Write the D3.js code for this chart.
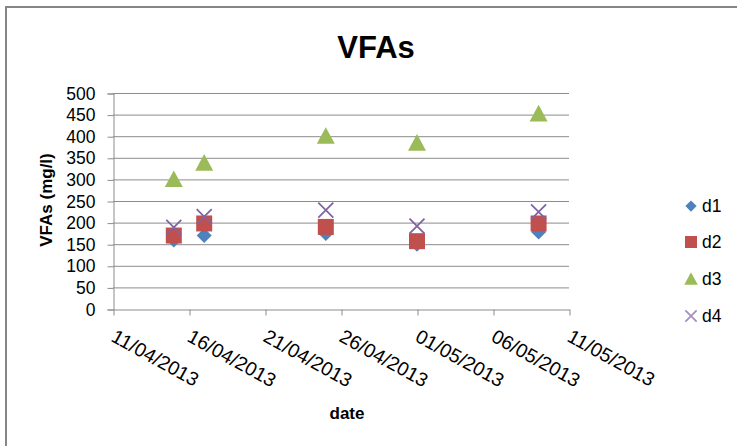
<!DOCTYPE html>
<html>
<head>
<meta charset="utf-8">
<script src="https://cdn.jsdelivr.net/npm/d3@7"></script>
<style>
  html, body { margin: 0; padding: 0; background: #fff; }
  svg { display: block; font-family: "Liberation Sans", Arial, sans-serif; }
</style>
</head>
<body>
<svg id="chart" width="737" height="446"></svg>
<script>
// Sampling dates and VFA concentrations (mg/l) for each digester
const sampleDates = ["15/04/2013", "17/04/2013", "25/04/2013", "01/05/2013", "09/05/2013"];
const d1 = [160, 170, 175, 150, 178];
const d2 = [170, 198, 190, 157, 198];
const d3v = [300, 338, 400, 384, 452];
const d4 = [189, 214, 229, 192, 225];
const seriesNames = ["d1", "d2", "d3", "d4"];
const xTickLabels = ["11/04/2013", "16/04/2013", "21/04/2013", "26/04/2013", "01/05/2013", "06/05/2013", "11/05/2013"];
const yTickValues = [0, 50, 100, 150, 200, 250, 300, 350, 400, 450, 500];

// dd/mm/yyyy <-> UTC Date
function parse(s) {
  const [dd, mm, yy] = s.split("/").map(Number);
  return new Date(Date.UTC(yy, mm - 1, dd));
}
const labelByTime = new Map(xTickLabels.map(s => [parse(s).getTime(), s]));
function fmt(d) { return labelByTime.get(d.getTime()) || ""; }

const svg = d3.select("#chart");
const W = 737, H = 446;
const plot = { left: 113, right: 569, top: 93, bottom: 309 };

const gridColor = "#8c8c8c";
const axisColor = "#8c8c8c";

// Outer chart border (runs off the right and bottom edges)
svg.append("rect")
  .attr("x", 6).attr("y", 7)
  .attr("width", W).attr("height", H)
  .attr("fill", "none")
  .attr("stroke", "#868686")
  .attr("stroke-width", 2);

const x = d3.scaleUtc()
  .domain([parse(xTickLabels[0]), parse(xTickLabels[xTickLabels.length - 1])])
  .range([plot.left, plot.right]);

const y = d3.scaleLinear()
  .domain([0, 500])
  .range([plot.bottom, plot.top]);

// Horizontal gridlines
svg.append("g")
  .selectAll("line")
  .data(yTickValues.filter(v => v > 0))
  .join("line")
  .attr("x1", plot.left).attr("x2", plot.right)
  .attr("y1", d => y(d) + 0.5).attr("y2", d => y(d) + 0.5)
  .attr("stroke", gridColor)
  .attr("stroke-width", 1);

// Y axis
const yAxis = svg.append("g")
  .attr("transform", `translate(${plot.left + 0.5},0.5)`)
  .call(d3.axisLeft(y).tickValues(yTickValues).tickSize(6).tickPadding(12));
yAxis.select(".domain").attr("stroke", axisColor);
yAxis.selectAll(".tick line").attr("stroke", axisColor);
yAxis.selectAll(".tick text")
  .attr("font-size", 17.5)
  .attr("fill", "#000")
  .attr("font-family", "\"Liberation Sans\", Arial, sans-serif");

// X axis
const xAxis = svg.append("g")
  .attr("transform", `translate(0.5,${plot.bottom + 0.5})`)
  .call(d3.axisBottom(x)
    .tickValues(xTickLabels.map(parse))
    .tickFormat(fmt)
    .tickSize(6)
    .tickSizeOuter(0));
xAxis.select(".domain").attr("stroke", axisColor);
xAxis.selectAll(".tick line").attr("stroke", axisColor);
xAxis.selectAll(".tick text")
  .attr("font-size", 19.5)
  .attr("fill", "#000")
  .attr("font-family", "\"Liberation Sans\", Arial, sans-serif")
  .attr("text-anchor", "start")
  .attr("dy", null)
  .attr("y", null)
  .attr("transform", "translate(-4,31) rotate(29)");

// Title and axis titles
svg.append("text")
  .attr("x", 376).attr("y", 58)
  .attr("text-anchor", "middle")
  .attr("font-size", 31).attr("font-weight", "bold")
  .text("VFAs");

svg.append("text")
  .attr("transform", "translate(52,200) rotate(-90)")
  .attr("text-anchor", "middle")
  .attr("font-size", 17).attr("font-weight", "bold")
  .text("VFAs (mg/l)");

svg.append("text")
  .attr("x", 347).attr("y", 419)
  .attr("text-anchor", "middle")
  .attr("font-size", 17).attr("font-weight", "bold")
  .text("date");

// Marker shapes, sized by half-width r
const shapes = [
  r => `M0,${-r}L${r},0L0,${r}L${-r},0Z`,
  r => `M${-r},${-r}H${r}V${r}H${-r}Z`,
  r => `M0,${-r}L${r},${r * 0.85}L${-r},${r * 0.85}Z`,
  r => `M${-r},${-r}L${r},${r}M${r},${-r}L${-r},${r}`
];
const colors = ["#4F81BD", "#C0504D", "#9BBB59", "#8064A2"];
const markerR = [7.5, 8, 9, 7.5];
const allSeries = [d1, d2, d3v, d4];

function drawMarker(g, i, scale, color) {
  const d = shapes[i](markerR[i] * scale);
  if (i === 3) {
    g.append("path").attr("d", d)
      .attr("fill", "none").attr("stroke", color).attr("stroke-width", 1.8);
  } else {
    g.append("path").attr("d", d).attr("fill", color);
  }
}

allSeries.forEach((vals, i) => {
  const g = svg.append("g");
  vals.forEach((v, j) => {
    const m = g.append("g")
      .attr("transform", `translate(${x(parse(sampleDates[j]))},${y(v)})`);
    drawMarker(m, i, 1, colors[i]);
  });
});

// Legend
const legendY = [206, 242, 279, 316];
seriesNames.forEach((name, i) => {
  const m = svg.append("g").attr("transform", `translate(691,${legendY[i]})`);
  drawMarker(m, i, 0.75, i === 3 ? "#a48fc0" : colors[i]);
  svg.append("text")
    .attr("x", 702).attr("y", legendY[i] + 6)
    .attr("font-size", 17.5)
    .text(name);
});
</script>
</body>
</html>
